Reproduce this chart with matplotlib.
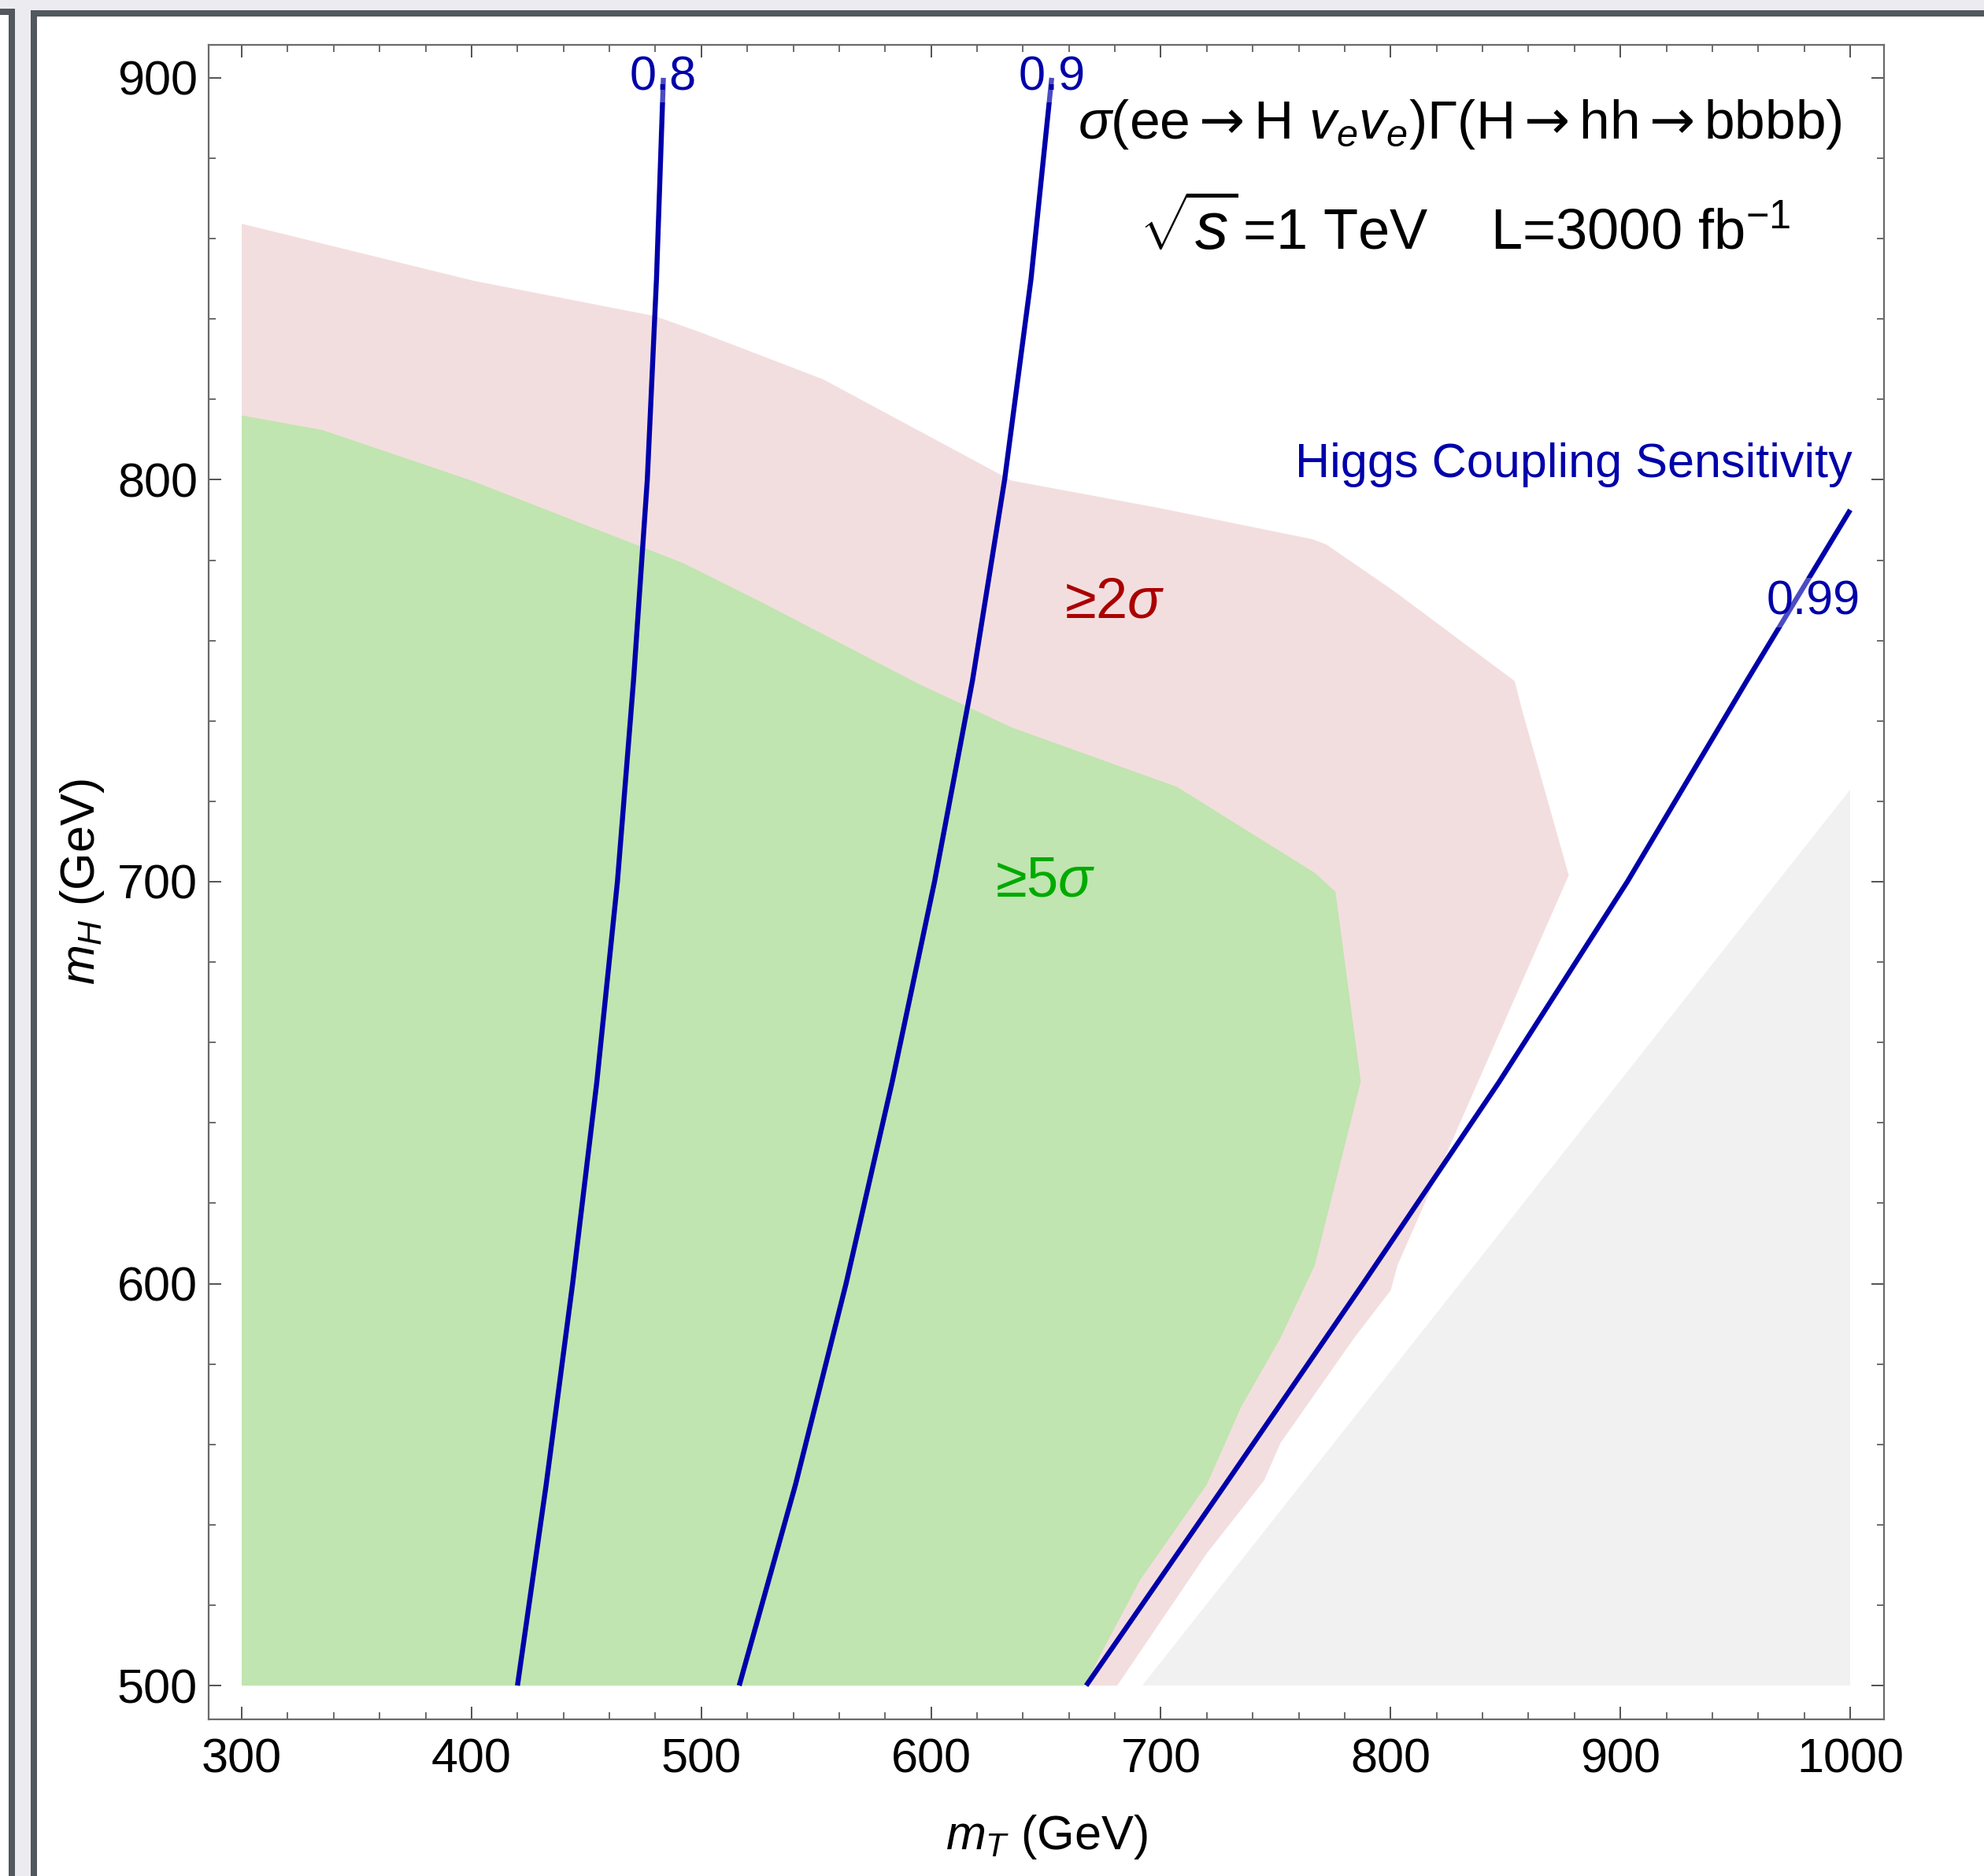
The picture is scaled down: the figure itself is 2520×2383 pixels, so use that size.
import matplotlib
matplotlib.use("Agg")
import matplotlib.pyplot as plt
from matplotlib.patches import Rectangle, Polygon
from matplotlib.ticker import MultipleLocator

plt.rcParams['font.family'] = ['Liberation Sans', 'DejaVu Sans']
plt.rcParams['mathtext.fontset'] = 'custom'
plt.rcParams['mathtext.rm'] = 'Liberation Sans'
plt.rcParams['mathtext.it'] = 'Liberation Sans:italic'
plt.rcParams['mathtext.bf'] = 'Liberation Sans:bold'
plt.rcParams['mathtext.sf'] = 'DejaVu Sans'

# >= 2 sigma region boundary (m_T, m_H) in GeV
pink_mt = [300, 401, 480, 500, 553, 635, 699, 766, 772, 801, 854, 857, 877.5,
           803, 800, 784, 752, 745, 720, 681, 300]
pink_mh = [863.7, 849.5, 840.7, 836.6, 825, 799.8, 793, 785.2, 783.9, 772.5, 749.9, 743.1, 701.6,
           604.6, 598.3, 586.4, 560.3, 551.1, 532.9, 500, 500]

# >= 5 sigma region boundary
green_mt = [300, 335, 400, 492, 525, 594, 635, 707, 767, 776, 787,
            767, 752, 735, 720, 691, 674, 667, 300]
green_mh = [816, 812.4, 799.8, 779.3, 769.9, 749.4, 738.4, 723.6, 702.2, 697.5, 650.3,
            604.6, 586.4, 569.4, 550, 526.3, 508, 500, 500]

# kinematically excluded corner
gray_mt = [692, 1000, 1000]
gray_mh = [500, 500, 723]

# Higgs coupling sensitivity contours
contour_mh = [500, 550, 600, 650, 700, 750, 800, 850, 900]
c080_mt = [420, 432.5, 444, 454.5, 463.5, 470.5, 476.5, 480.5, 483.5]
c090_mt = [516.5, 541, 563, 583, 601.5, 618, 632, 643.5, 652.5]
c099_mh = [500, 550, 600, 650, 700, 750, 792.5]
c099_mt = [667.5, 728, 788, 847, 903, 955, 1000]

W, H = 2520, 2383
fig = plt.figure(figsize=(W / 100, H / 100), dpi=100, facecolor='#EBEBF0')


def px_rect(x0, y0, x1, y1, color):
    # rectangle given in pixels measured from the top-left corner
    r = Rectangle((x0 / W, 1 - y1 / H), (x1 - x0) / W, (y1 - y0) / H,
                  transform=fig.transFigure, facecolor=color, edgecolor='none', zorder=-10)
    fig.add_artist(r)


dark = '#53575E'
# notebook cell frames
px_rect(0, 19, 11, H, 'white')
px_rect(11, 11, 19, H, dark)
px_rect(0, 11, 19, 19, dark)
px_rect(47, 21, W, H, 'white')
px_rect(39, 13, 47, H, dark)
px_rect(39, 13, W, 21, dark)

ax = fig.add_axes([265 / W, 1 - 2184 / H, (2393 - 265) / W, (2184 - 57) / H])
ax.set_xlim(285.6, 1014.7)
ax.set_ylim(491.6, 908.2)

ax.add_patch(Polygon(list(zip(pink_mt, pink_mh)), closed=True, facecolor='#F3DEDF',
                     edgecolor='none', zorder=1))
ax.add_patch(Polygon(list(zip(green_mt, green_mh)), closed=True, facecolor='#C0E5B0',
                     edgecolor='none', zorder=2))
ax.add_patch(Polygon(list(zip(gray_mt, gray_mh)), closed=True, facecolor='#F1F1F1',
                     edgecolor='none', zorder=1))

blue = '#0000AA'
for mt, mh in [(c080_mt, contour_mh), (c090_mt, contour_mh), (c099_mt, c099_mh)]:
    ax.plot(mt, mh, color=blue, lw=4.6, zorder=3, solid_capstyle='butt',
            solid_joinstyle='round')

lbl_box = dict(facecolor='white', alpha=0.3, edgecolor='none', pad=2)
ax.text(483.5, 900, '0.8', color=blue, fontsize=44, ha='center', va='center',
        bbox=lbl_box, zorder=4)
ax.text(652.5, 900, '0.9', color=blue, fontsize=44, ha='center', va='center',
        bbox=lbl_box, zorder=4)
ax.text(984, 769.5, '0.99', color=blue, fontsize=44, ha='center', va='center',
        bbox=lbl_box, zorder=4)
ax.text(1001, 800.7, 'Higgs Coupling Sensitivity', color=blue, fontsize=44,
        ha='right', va='baseline', zorder=4)

ax.text(680, 769.3, '≥2$\\sigma$', color='#AA0000', fontsize=52, ha='center',
        va='center', zorder=4)
ax.text(649.6, 700, '≥5$\\sigma$', color='#00AA00', fontsize=52, ha='center',
        va='center', zorder=4)

arrow = '$\\mathsf{\\rightarrow}$'
ax.text(830.2, 884.8,
        '$\\sigma$(ee' + arrow + 'H $v_e v_e$)Γ(H' + arrow + 'hh' + arrow + 'bbbb)',
        fontsize=50, ha='center', va='baseline', zorder=4)
ax.text(733.5, 857.3, '$\\sqrt{s}$', fontsize=61, ha='right', va='baseline', zorder=4)
ax.text(735.5, 857.3, '=1 TeV    L=3000 fb$^{-1}$', fontsize=52,
        ha='left', va='baseline', zorder=4)

ax.xaxis.set_major_locator(MultipleLocator(100))
ax.xaxis.set_minor_locator(MultipleLocator(20))
ax.yaxis.set_major_locator(MultipleLocator(100))
ax.yaxis.set_minor_locator(MultipleLocator(20))
ax.tick_params(which='both', direction='in', top=True, right=True,
               colors='#444444', labelcolor='black', labelsize=44)
ax.tick_params(which='major', length=11.5, width=1.3)
ax.tick_params(which='minor', length=6.8, width=1.1)
ax.tick_params(axis='x', which='major', pad=17)
ax.tick_params(axis='y', which='major', pad=10)
for s in ax.spines.values():
    s.set_color('#6A6A6A')
    s.set_linewidth(1.6)

ax.set_xlabel('$m_T$ (GeV)', fontsize=44)
ax.set_ylabel('$m_H$ (GeV)', fontsize=44)
ax.xaxis.set_label_coords(0.5, -0.056)
ax.yaxis.set_label_coords(-0.061, 0.5)

fig.savefig('out.png', dpi=100, facecolor=fig.get_facecolor())
